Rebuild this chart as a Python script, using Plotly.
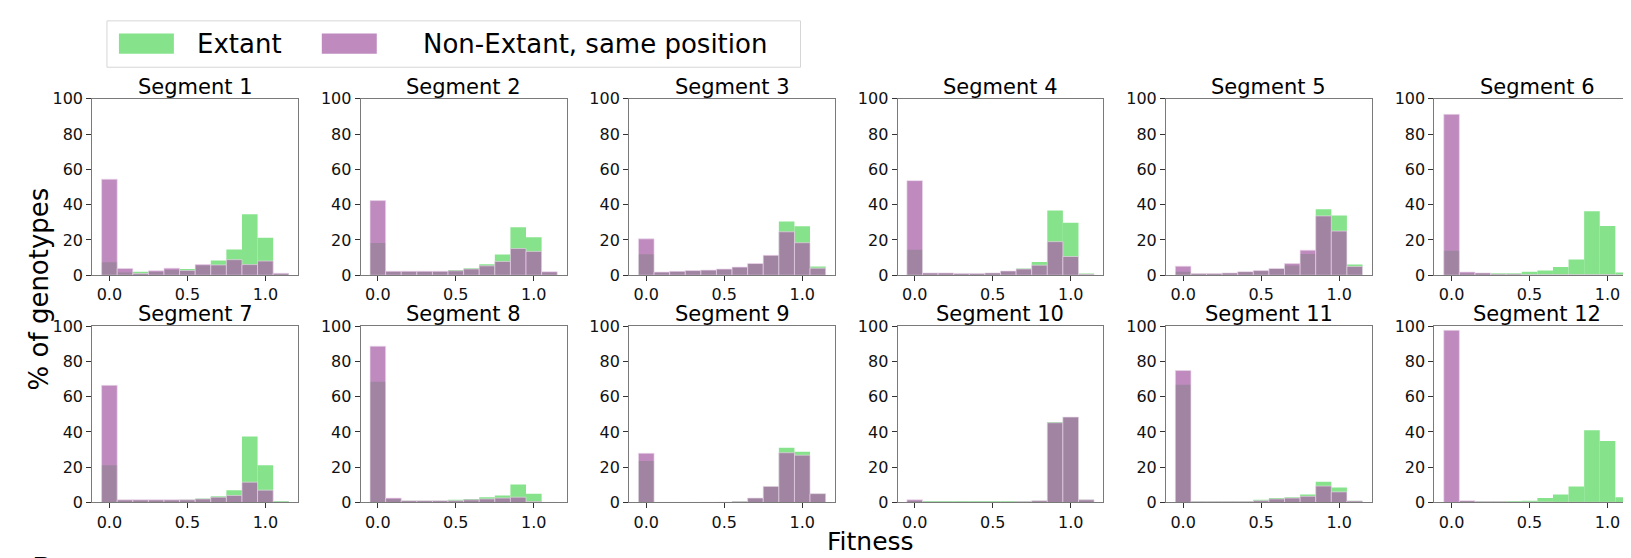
import plotly.graph_objects as go

W, H = 1631, 558

bins = [0.0, 0.1, 0.2, 0.3, 0.4, 0.5, 0.6, 0.7, 0.8, 0.9, 1.0, 1.1]
segments = ["Segment %d" % k for k in range(1, 13)]
x_ticks = [0.0, 0.5, 1.0]
x_tick_labels = ["0.0", "0.5", "1.0"]
y_ticks = [0, 20, 40, 60, 80, 100]

extant_1 = [7.3, 1.5, 2.0, 2.0, 3.0, 3.5, 5.5, 8.4, 14.6, 34.5, 21.2, 0.5]
nonext_1 = [54.4, 3.8, 1.0, 2.5, 4.0, 2.7, 6.0, 5.8, 8.8, 6.0, 8.0, 1.1]
extant_2 = [18.2, 2.0, 2.0, 2.0, 2.0, 2.9, 4.0, 6.2, 11.7, 27.2, 21.5, 1.5]
nonext_2 = [42.3, 2.3, 2.3, 2.3, 2.3, 2.5, 3.5, 5.3, 7.8, 15.1, 13.5, 2.0]
extant_3 = [11.9, 1.6, 2.0, 2.4, 2.7, 3.3, 4.4, 6.3, 11.0, 30.5, 27.7, 5.0]
nonext_3 = [20.6, 1.8, 2.2, 2.6, 2.9, 3.5, 4.6, 6.6, 11.3, 24.6, 18.4, 4.0]
extant_4 = [14.4, 1.1, 1.1, 0.7, 0.7, 1.2, 2.3, 3.8, 7.5, 36.7, 29.7, 1.0]
nonext_4 = [53.6, 1.3, 1.3, 1.0, 1.0, 1.3, 2.4, 3.5, 5.7, 19.0, 10.6, 0.5]
extant_5 = [2.0, 0.7, 0.7, 1.1, 1.8, 2.4, 3.5, 5.5, 12.0, 37.4, 33.9, 6.0]
nonext_5 = [5.1, 0.9, 0.9, 1.3, 2.0, 2.6, 3.8, 6.6, 14.2, 33.6, 25.0, 5.0]
extant_6 = [13.9, 1.0, 1.1, 1.1, 1.1, 2.0, 2.7, 4.6, 8.9, 36.3, 27.9, 1.5]
nonext_6 = [91.2, 1.8, 1.3, 0.6, 0.6, 0.3, 0.3, 0.3, 0.3, 0.3, 0.3, 0.1]
extant_7 = [21.1, 1.3, 1.3, 1.3, 1.3, 1.5, 2.3, 3.5, 7.0, 37.4, 21.1, 0.5]
nonext_7 = [66.4, 1.5, 1.5, 1.5, 1.5, 1.5, 2.0, 3.0, 4.0, 11.5, 7.0, 0.3]
extant_8 = [68.4, 2.0, 1.0, 1.0, 1.0, 1.5, 2.0, 3.0, 4.0, 10.2, 5.0, 0.0]
nonext_8 = [88.6, 2.5, 1.0, 1.0, 1.0, 1.0, 1.5, 2.0, 2.5, 3.0, 0.5, 0.0]
extant_9 = [23.5, 0.0, 0.0, 0.0, 0.1, 0.2, 0.5, 2.5, 9.1, 31.0, 28.8, 5.0]
nonext_9 = [27.9, 0.0, 0.0, 0.0, 0.1, 0.2, 0.5, 2.5, 9.1, 28.2, 26.8, 5.0]
extant_10 = [1.0, 0.3, 0.3, 0.3, 0.3, 0.3, 0.3, 0.5, 1.0, 45.6, 48.5, 1.5]
nonext_10 = [1.5, 0.3, 0.3, 0.3, 0.3, 0.3, 0.3, 0.5, 1.0, 45.2, 48.4, 1.5]
extant_11 = [66.7, 0.5, 0.5, 0.5, 0.5, 1.5, 2.5, 3.0, 4.5, 11.8, 8.5, 1.0]
nonext_11 = [74.8, 0.5, 0.5, 0.5, 0.5, 1.0, 2.0, 2.5, 3.5, 9.3, 6.0, 0.8]
extant_12 = [0.0, 0.5, 0.5, 0.5, 0.5, 1.0, 2.5, 4.5, 9.1, 41.0, 34.8, 3.0]
nonext_12 = [97.6, 1.0, 0.5, 0.5, 0.3, 0.2, 0.2, 0.1, 0.1, 0.1, 0.1, 0.0]

extant_all = [extant_1, extant_2, extant_3, extant_4, extant_5, extant_6,
              extant_7, extant_8, extant_9, extant_10, extant_11, extant_12]
nonext_all = [nonext_1, nonext_2, nonext_3, nonext_4, nonext_5, nonext_6,
              nonext_7, nonext_8, nonext_9, nonext_10, nonext_11, nonext_12]

GREEN = "#86E38B"
PURPLE = "rgba(169,99,169,0.74)"
FONT = "DejaVu Sans"

fig = go.Figure()

# pixel geometry
left0, step, pw = 84.3, 268.6, 206.0
rows_px = [(84.7, 267.3), (320.0, 502.6)]
xmin = -0.11
px_per_unit = pw / 1.32

layout = dict(
    width=W, height=H,
    margin=dict(l=0, r=0, t=0, b=0, pad=0),
    paper_bgcolor="white", plot_bgcolor="white",
    barmode="overlay", showlegend=False,
    font=dict(family=FONT, color="black"),
)
annotations = []
shapes = []

for i in range(12):
    r, c = divmod(i, 6)
    L = left0 + step * c
    R = min(L + pw, W)
    xmax = xmin + (R - L) / px_per_unit
    top, bot = rows_px[r]
    n = i + 1
    xa = "x" if n == 1 else "x%d" % n
    ya = "y" if n == 1 else "y%d" % n
    fig.add_trace(go.Bar(x=bins, y=extant_all[i], width=0.1, name="Extant",
                         marker=dict(color=GREEN, line=dict(width=0)),
                         xaxis=xa, yaxis=ya))
    fig.add_trace(go.Bar(x=bins, y=nonext_all[i], width=0.1,
                         name="Non-Extant, same position",
                         marker=dict(color=PURPLE,
                                     line=dict(width=0.8, color="rgba(235,215,235,0.8)")),
                         xaxis=xa, yaxis=ya))
    axkey = "xaxis" if n == 1 else "xaxis%d" % n
    aykey = "yaxis" if n == 1 else "yaxis%d" % n
    layout[axkey] = dict(
        domain=[L / W, R / W], range=[xmin, xmax], anchor=ya,
        tickvals=x_ticks, ticktext=x_tick_labels, ticks="outside", ticklen=5,
        tickcolor="#333", showline=True, linecolor="#7a7a7a", linewidth=1,
        mirror=True, showgrid=False, zeroline=False,
        tickfont=dict(size=16, family=FONT, color="#111"),
    )
    layout[aykey] = dict(
        domain=[1 - bot / H, 1 - top / H], range=[0, 100], anchor=xa,
        tickvals=y_ticks, ticks="outside", ticklen=5, tickcolor="#333",
        showline=True, linecolor="#7a7a7a", linewidth=1, mirror=True,
        showgrid=False, zeroline=False,
        tickfont=dict(size=16, family=FONT, color="#111"),
    )
    annotations.append(dict(
        text=segments[i], x=(L + pw / 2) / W, y=1 - (top - 12.5) / H,
        xref="paper", yref="paper", xanchor="center", yanchor="middle",
        showarrow=False, font=dict(size=21, family=FONT, color="black"),
    ))

# axis labels
annotations.append(dict(text="Fitness", x=863 / W, y=1 - 543 / H, xref="paper",
                        yref="paper", xanchor="center", yanchor="middle",
                        showarrow=False, font=dict(size=25, family=FONT)))
annotations.append(dict(text="% of genotypes", x=31 / W, y=1 - 281 / H, xref="paper",
                        yref="paper", xanchor="center", yanchor="middle",
                        textangle=-90, showarrow=False,
                        font=dict(size=26, family=FONT)))
annotations.append(dict(text="B", x=22 / W, y=1 - 551 / H, xref="paper",
                        yref="paper", xanchor="left", yanchor="top",
                        showarrow=False, font=dict(size=30, family=FONT)))

# legend (drawn manually to match the large patches)
shapes.append(dict(type="rect", xref="paper", yref="paper",
                   x0=99 / W, x1=793 / W, y0=1 - 52 / H, y1=1 - 4 / H,
                   line=dict(color="#d6d6d6", width=1), fillcolor="white"))
shapes.append(dict(type="rect", xref="paper", yref="paper",
                   x0=111 / W, x1=166 / W, y0=1 - 38 / H, y1=1 - 17 / H,
                   line=dict(width=0), fillcolor=GREEN))
shapes.append(dict(type="rect", xref="paper", yref="paper",
                   x0=314 / W, x1=369 / W, y0=1 - 38 / H, y1=1 - 17 / H,
                   line=dict(width=0), fillcolor=PURPLE))
annotations.append(dict(text="Extant", x=187 / W, y=1 - 28 / H, xref="paper",
                        yref="paper", xanchor="left", yanchor="middle",
                        showarrow=False, font=dict(size=26, family=FONT)))
annotations.append(dict(text="Non-Extant, same position", x=413 / W, y=1 - 28 / H,
                        xref="paper", yref="paper", xanchor="left",
                        yanchor="middle", showarrow=False,
                        font=dict(size=26, family=FONT)))

layout["annotations"] = annotations
layout["shapes"] = shapes
fig.update_layout(**layout)
fig.write_html("out.html")
